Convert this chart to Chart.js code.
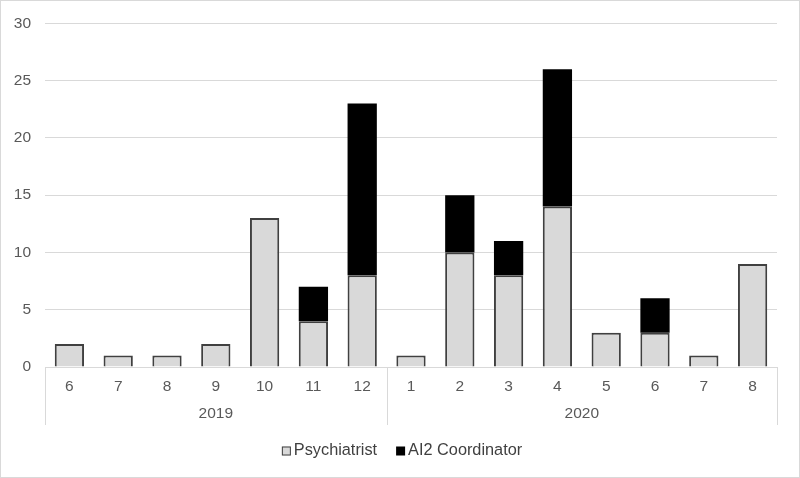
<!DOCTYPE html>
<html>
<head>
<meta charset="utf-8">
<script src="https://cdn.jsdelivr.net/npm/chart.js@4/dist/chart.umd.min.js"></script>
<style>
  html, body { margin: 0; padding: 0; background: #fff; }
  #wrap { width: 800px; height: 478px; position: relative; }
</style>
</head>
<body>
<div id="wrap"><canvas id="c" width="800" height="478"></canvas></div>
<script>
const months = ['6','7','8','9','10','11','12','1','2','3','4','5','6','7','8'];
const yearLabels = ['2019', '2020'];
const yearSpans = [7, 8];
const psychiatrist = [2, 1, 1, 2, 13, 4, 8, 1, 10, 8, 14, 3, 3, 1, 9];
const ai2Coordinator = [0, 0, 0, 0, 0, 3, 15, 0, 5, 3, 12, 0, 3, 0, 0];
const yTicks = [0, 5, 10, 15, 20, 25, 30];

const FONT = '"Liberation Sans", Arial, sans-serif';

const extras = {
  id: 'extras',
  beforeDraw(chart) {
    const ctx = chart.ctx;
    ctx.save();
    ctx.fillStyle = '#ffffff';
    ctx.fillRect(0, 0, chart.width, chart.height);
    ctx.restore();
  },
  afterDraw(chart) {
    const ctx = chart.ctx;
    const x = chart.scales.x;
    const area = chart.chartArea;
    const step = x.getPixelForValue(1) - x.getPixelForValue(0);
    ctx.save();
    ctx.strokeStyle = '#d9d9d9';
    ctx.lineWidth = 1;
    let start = 0;
    const bounds = [];
    for (let i = 0; i < yearSpans.length; i++) {
      const end = start + yearSpans[i] - 1;
      const left = x.getPixelForValue(start) - step / 2;
      const right = x.getPixelForValue(end) + step / 2;
      bounds.push(left, right);
      ctx.fillStyle = '#595959';
      ctx.font = '15.5px ' + FONT;
      ctx.textAlign = 'center';
      ctx.textBaseline = 'middle';
      ctx.fillText(yearLabels[i], (left + right) / 2, area.bottom + 47);
      start = end + 1;
    }
    const uniq = [...new Set(bounds.map(b => Math.round(b)))];
    uniq.forEach(b => {
      ctx.beginPath();
      ctx.moveTo(b + 0.5, area.bottom);
      ctx.lineTo(b + 0.5, area.bottom + 58);
      ctx.stroke();
    });
    // legend
    ctx.font = '16.3px ' + FONT;
    ctx.textAlign = 'left';
    ctx.textBaseline = 'middle';
    const box = 9, gapText = 3, gapItem = 19;
    const items = chart.data.datasets.map(d => ({
      label: d.label, fill: d.backgroundColor, stroke: d.legendStroke
    }));
    const widths = items.map(it => box + gapText + ctx.measureText(it.label).width);
    const total = widths.reduce((a, b) => a + b, 0) + gapItem * (items.length - 1);
    let lx = 402 - total / 2;
    const ly = 451;
    items.forEach((it, i) => {
      ctx.fillStyle = it.fill;
      ctx.fillRect(lx, ly - box / 2, box, box);
      if (it.stroke) {
        ctx.strokeStyle = it.stroke;
        ctx.lineWidth = 1;
        ctx.strokeRect(lx + 0.5, ly - box / 2 + 0.5, box - 1, box - 1);
      }
      ctx.fillStyle = '#404040';
      ctx.fillText(it.label, lx + box + gapText, ly);
      lx += widths[i] + gapItem;
    });
    ctx.strokeStyle = '#d9d9d9';
    ctx.lineWidth = 1;
    ctx.strokeRect(0.5, 0.5, chart.width - 1, chart.height - 1);
    ctx.restore();
  }
};

new Chart(document.getElementById('c'), {
  type: 'bar',
  data: {
    labels: months,
    datasets: [
      {
        label: 'Psychiatrist',
        data: psychiatrist,
        backgroundColor: '#d9d9d9',
        borderColor: '#404040',
        borderWidth: 2,
        legendStroke: '#404040',
        borderSkipped: 'bottom',
        barPercentage: 0.6,
        categoryPercentage: 1
      },
      {
        label: 'AI2 Coordinator',
        data: ai2Coordinator,
        backgroundColor: '#000000',
        borderWidth: 0,
        barPercentage: 0.6,
        categoryPercentage: 1
      }
    ]
  },
  options: {
    responsive: false,
    animation: false,
    devicePixelRatio: 1,
    layout: { padding: { top: 22, right: 23, left: 0, bottom: 0 } },
    plugins: { legend: { display: false }, tooltip: { enabled: false } },
    scales: {
      x: {
        stacked: true,
        grid: { display: false, drawTicks: false },
        border: { display: true, color: '#d9d9d9', width: 1 },
        ticks: { color: '#595959', font: { family: FONT, size: 15.5 }, padding: 10, maxRotation: 0, autoSkip: false },
        afterFit(scale) { scale.height = 111; }
      },
      y: {
        stacked: true,
        min: 0,
        max: 30,
        afterBuildTicks(scale) { scale.ticks = yTicks.map(v => ({ value: v })); },
        grid: { color: '#d9d9d9', lineWidth: 1, drawTicks: false },
        border: { display: false },
        ticks: { color: '#595959', font: { family: FONT, size: 15.5 }, padding: 14 },
        afterFit(scale) { scale.width = 45; }
      }
    }
  },
  plugins: [extras]
});
</script>
</body>
</html>
